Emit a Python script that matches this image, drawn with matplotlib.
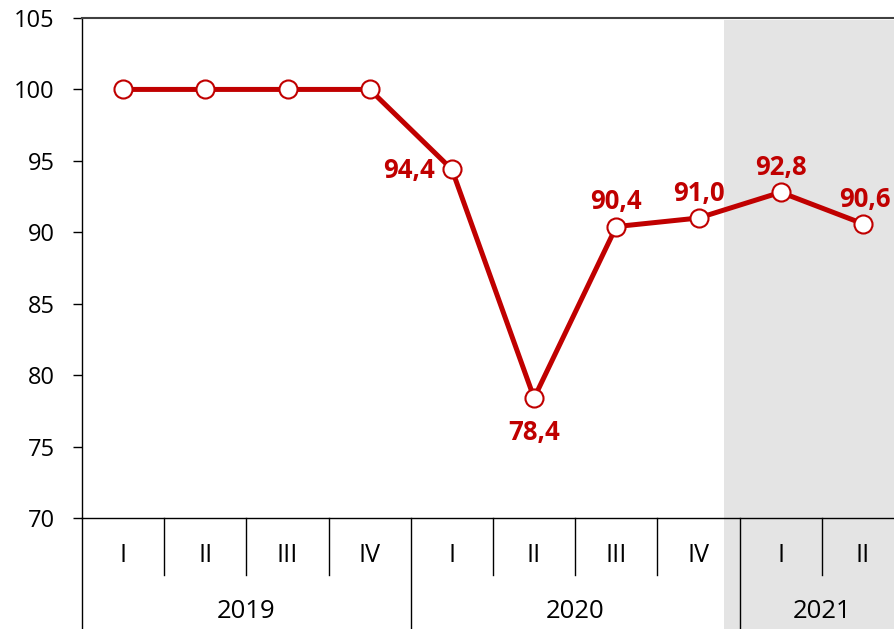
import matplotlib.pyplot as plt
from matplotlib.patches import Rectangle
import matplotlib.transforms as mtransforms

quarters = ['I', 'II', 'III', 'IV', 'I', 'II', 'III', 'IV', 'I', 'II']
years = ['2019', '2020', '2021']
year_len = [4, 4, 2]
values = [100, 100, 100, 100, 94.4, 78.4, 90.4, 91.0, 92.8, 90.6]
labels = [None, None, None, None, '94,4', '78,4', '90,4', '91,0', '92,8', '90,6']
label_pos = [None, None, None, None, 'left', 'below', 'above', 'above', 'above', 'above_right']

plt.rcParams['font.family'] = ['Open Sans', 'DejaVu Sans']
red = '#C00000'

W, H = 894, 629
fig = plt.figure(figsize=(W / 100, H / 100), dpi=100)
ax = fig.add_axes([82 / W, (H - 518) / H, (W - 82) / W, 500 / H])

x = list(range(len(values)))
ax.set_xlim(-0.5, 9.5 - 10 / 82.2)
ax.set_ylim(70, 105)

# shaded region for 2021
shade_x = 7.31
ax.axvspan(shade_x, 10, ymin=0, ymax=(104.86 - 70) / 35, color='#E4E4E4', lw=0, zorder=0)
trans = mtransforms.blended_transform_factory(ax.transData, fig.transFigure)
fig.patches.append(Rectangle((shade_x, 0), 5, (H - 518) / H, transform=trans,
                             facecolor='#E4E4E4', lw=0, zorder=-1))

ax.plot(x, values, color=red, lw=3.6, marker='o', ms=13, mfc='white',
        mec=red, mew=1.5, zorder=3, clip_on=False)

for xi, v, lab, pos in zip(x, values, labels, label_pos):
    if lab is None:
        continue
    kw = dict(color=red, fontsize=18.5, fontweight='bold')
    if pos == 'left':
        ax.annotate(lab, (xi, v), xytext=(-12, -1), textcoords='offset points',
                    ha='right', va='center', **kw)
    elif pos == 'below':
        ax.annotate(lab, (xi, v), xytext=(0, -15), textcoords='offset points',
                    ha='center', va='top', **kw)
    elif pos == 'above_right':
        ax.annotate(lab, (xi, v), xytext=(1.5, 8), textcoords='offset points',
                    ha='center', va='bottom', **kw)
    else:
        ax.annotate(lab, (xi, v), xytext=(0, 8), textcoords='offset points',
                    ha='center', va='bottom', **kw)

ax.spines['right'].set_visible(False)
ax.spines['top'].set_color('#404040')
ax.spines['top'].set_linewidth(1.5)
ax.spines['left'].set_linewidth(1)
ax.spines['bottom'].set_linewidth(1)
ax.spines['bottom'].set_zorder(5)
ax.set_yticks(range(70, 106, 5))
ax.tick_params(axis='y', length=6.5, width=1, labelsize=17, pad=13)
ax.set_xticks([])

# category axis below
yq = (H - 555) / H
yy = (H - 611) / H
for xi, q in zip(x, quarters):
    fig.text(xi, yq, q, transform=trans, ha='center', va='center', fontsize=18)
start = 0
for yr, n in zip(years, year_len):
    fig.text(start + (n - 1) / 2, yy, yr, transform=trans, ha='center',
             va='center', fontsize=18.5)
    start += n
bounds = [sum(year_len[:i + 1]) - 0.5 for i in range(len(year_len) - 1)]
for i in range(len(values) - 1):
    b = i + 0.5
    if b in bounds:
        y0 = -0.01
    else:
        y0 = (H - 575) / H
    fig.add_artist(plt.Line2D([b, b], [y0, (H - 518) / H], transform=trans,
                              color='black', lw=1))
fig.add_artist(plt.Line2D([-0.5, -0.5], [-0.01, (H - 518) / H], transform=trans,
                          color='black', lw=1))

fig.savefig('out.png', dpi=100)
